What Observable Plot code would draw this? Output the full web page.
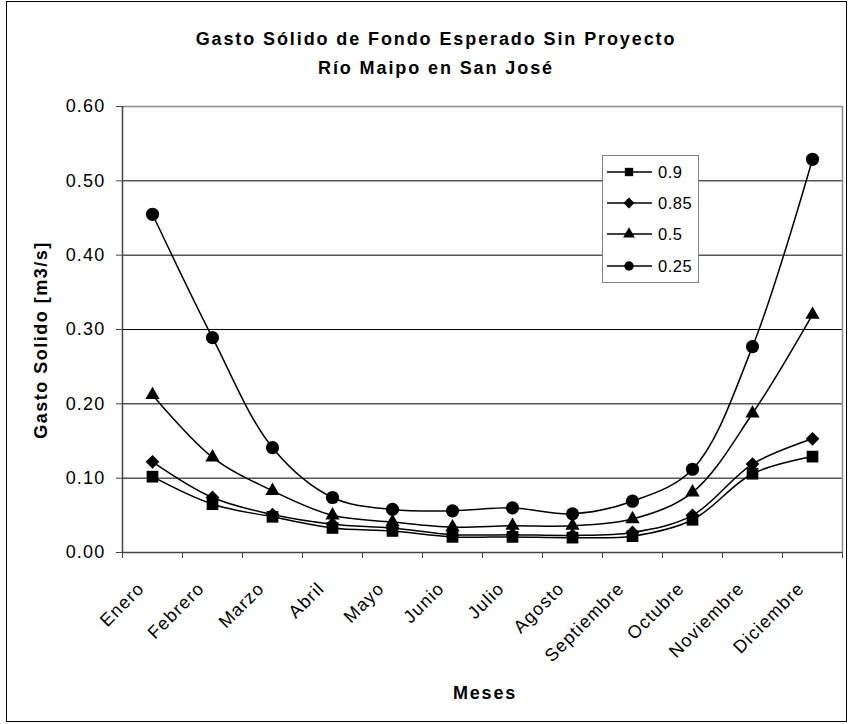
<!DOCTYPE html>
<html>
<head>
<meta charset="utf-8">
<script src="https://cdn.jsdelivr.net/npm/d3@7"></script>
<script src="https://cdn.jsdelivr.net/npm/@observablehq/plot@0.6"></script>
<style>
  body { margin: 0; background: #fff; }
  #wrap { position: relative; width: 849px; height: 724px; font-family: "Liberation Sans", Arial, sans-serif; }
  #wrap svg.plot text { letter-spacing: 1.2px; }
  #overlay { position: absolute; left: 0; top: 0; pointer-events: none; }
</style>
</head>
<body>
<div id="wrap"></div>
<script>
// ---- data ----
const months = ["Enero", "Febrero", "Marzo", "Abril", "Mayo", "Junio", "Julio", "Agosto", "Septiembre", "Octubre", "Noviembre", "Diciembre"];
const seriesNames = ["0.9", "0.85", "0.5", "0.25"];
const s09  = [0.102, 0.065, 0.048, 0.033, 0.029, 0.021, 0.021, 0.020, 0.022, 0.044, 0.106, 0.129];
const s085 = [0.122, 0.074, 0.051, 0.038, 0.033, 0.024, 0.024, 0.023, 0.027, 0.050, 0.119, 0.153];
const s05  = [0.212, 0.128, 0.083, 0.050, 0.041, 0.034, 0.036, 0.036, 0.045, 0.081, 0.187, 0.320];
const s025 = [0.455, 0.289, 0.141, 0.074, 0.058, 0.056, 0.060, 0.052, 0.069, 0.112, 0.277, 0.529];
const yTicks = [0, 0.1, 0.2, 0.3, 0.4, 0.5, 0.6];
const symbols = ["square", "diamond2", "triangle", "circle"];
const symbolR = [6.6, 6.2, 5.3, 6.6];

const seriesValues = [s09, s085, s05, s025];
const data = [];
seriesNames.forEach((name, si) => {
  months.forEach((m, i) => data.push({series: name, idx: si, month: m, x: i + 0.5, y: seriesValues[si][i]}));
});

const W = 849, H = 724;
const fontFam = '"Liberation Sans", Arial, sans-serif';

const plot = Plot.plot({
  width: W, height: H,
  marginLeft: 122, marginRight: 7, marginTop: 106, marginBottom: 172,
  style: {fontFamily: fontFam, fontSize: "18px", color: "#000", background: "transparent"},
  x: {type: "linear", domain: [0, 12]},
  y: {domain: [0, 0.6]},
  marks: [
    Plot.ruleY(yTicks.filter(d => d > 0 && d < 0.6), {stroke: "#000", strokeWidth: 1}),
    Plot.ruleY([0.6], {stroke: "#8c8c8c", strokeWidth: 1.5}),
    Plot.ruleX([12], {stroke: "#8c8c8c", strokeWidth: 1.5}),
    Plot.ruleX([0], {stroke: "#444", strokeWidth: 1.5}),
    Plot.ruleY([0], {stroke: "#444", strokeWidth: 1.5}),
    Plot.axisY({ticks: yTicks, tickFormat: d => d.toFixed(2), tickSize: 6, tickPadding: 11, label: null, stroke: "#444", fontSize: 18}),
    Plot.axisX({ticks: d3.range(13), tickFormat: () => "", tickSize: 6, label: null, stroke: "#444"}),
    Plot.text(months, {x: (d, i) => i + 0.5, frameAnchor: "bottom", text: d => d, rotate: -45, textAnchor: "end", lineAnchor: "bottom", dx: -7, dy: 37, fontSize: 18}),
    Plot.line(data, {x: "x", y: "y", z: "series", curve: "catmull-rom", stroke: "#000", strokeWidth: 1.5}),
    ...seriesNames.map((name, si) =>
      Plot.dot(data.filter(d => d.series === name), {x: "x", y: "y", symbol: symbols[si], r: symbolR[si], fill: "#000", stroke: "none"})
    )
  ]
});
plot.classList.add("plot");
document.getElementById("wrap").appendChild(plot);

// ---- overlay: border, titles, axis titles, legend ----
const ov = d3.select("#wrap").append("svg")
  .attr("id", "overlay").attr("width", W).attr("height", H)
  .style("font-family", fontFam);

ov.append("rect").attr("x", 6.5).attr("y", 1.5).attr("width", 840).attr("height", 720)
  .attr("fill", "none").attr("stroke", "#000").attr("stroke-width", 1);

const titleLines = ["Gasto Sólido de Fondo Esperado Sin Proyecto", "Río Maipo en San José"];
ov.selectAll("text.title").data(titleLines).join("text")
  .attr("class", "title")
  .attr("x", 436).attr("y", (d, i) => 45 + i * 29)
  .attr("text-anchor", "middle").attr("font-weight", "bold").attr("font-size", 18)
  .style("letter-spacing", "1.9px")
  .text(d => d);

ov.append("text")
  .attr("transform", "translate(47,340) rotate(-90)")
  .attr("text-anchor", "middle").attr("font-weight", "bold").attr("font-size", 18)
  .style("letter-spacing", "1.5px")
  .text("Gasto Solido [m3/s]");

ov.append("text")
  .attr("x", 485).attr("y", 699)
  .attr("text-anchor", "middle").attr("font-weight", "bold").attr("font-size", 18)
  .style("letter-spacing", "1.8px")
  .text("Meses");

// legend
const lg = ov.append("g");
lg.append("rect").attr("x", 602.5).attr("y", 155.5).attr("width", 96).attr("height", 127)
  .attr("fill", "#fff").attr("stroke", "#808080").attr("stroke-width", 1);
const legendY = [172, 203, 234, 266];
const legSymbols = [d3.symbolSquare, d3.symbolDiamond2, d3.symbolTriangle, d3.symbolCircle];
const legSizes = [70, 75, 60, 70];
seriesNames.forEach((name, i) => {
  const y = legendY[i];
  lg.append("line").attr("x1", 607).attr("x2", 652).attr("y1", y).attr("y2", y)
    .attr("stroke", "#000").attr("stroke-width", 1.5);
  lg.append("path").attr("d", d3.symbol(legSymbols[i], legSizes[i])())
    .attr("transform", `translate(629,${y})`).attr("fill", "#000");
  lg.append("text").attr("x", 658).attr("y", y + 6).attr("font-size", 16.5)
    .style("letter-spacing", "0.5px").text(name);
});
</script>
</body>
</html>
